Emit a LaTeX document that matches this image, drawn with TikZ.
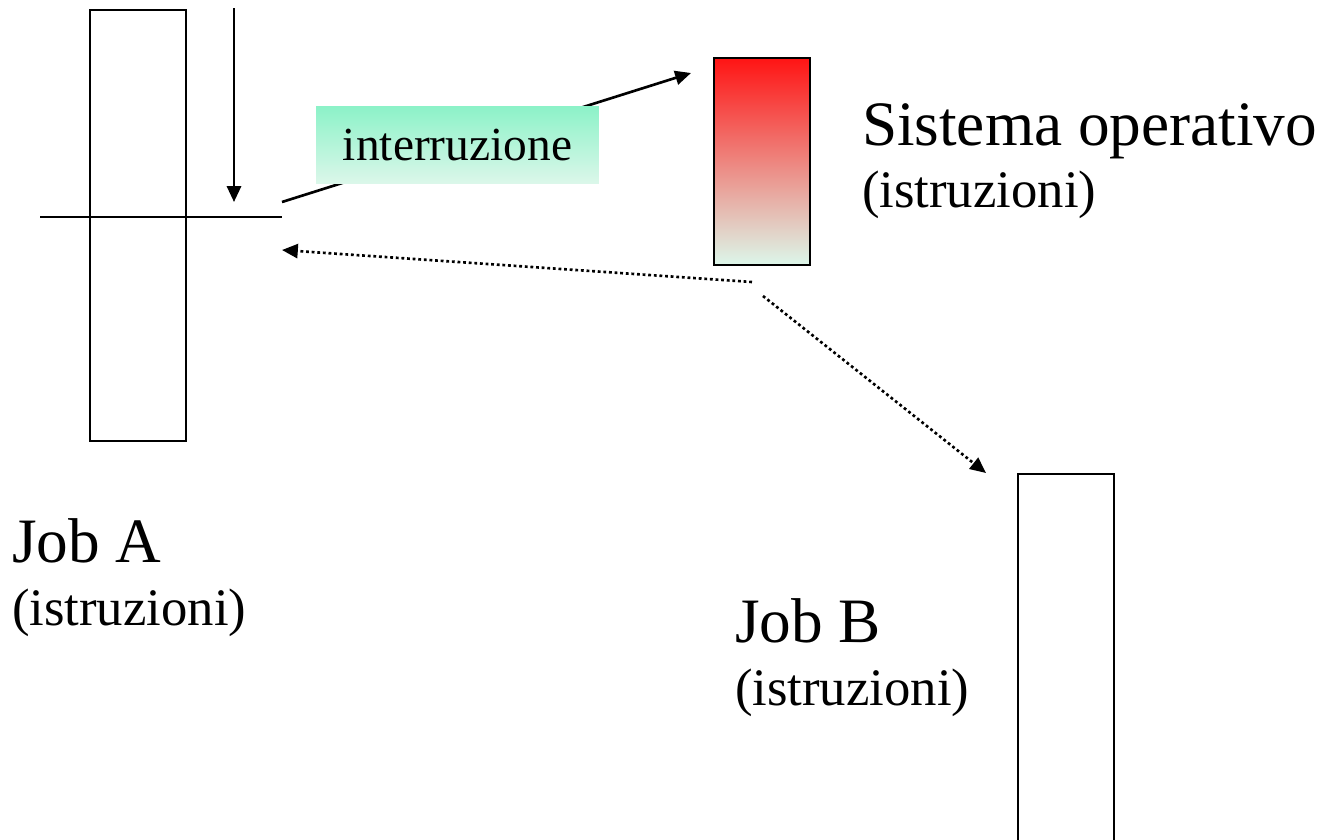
\documentclass[tikz,border=0pt]{standalone}
\usepackage{fontspec}
\setmainfont{Liberation Serif}
\usetikzlibrary{arrows.meta}
\definecolor{osred}{HTML}{FF1414}
\definecolor{osmid}{HTML}{EEA8A0}
\definecolor{mintlow}{HTML}{DCF7EA}
\definecolor{irqtop}{HTML}{8CF2C8}
\begin{document}
\begin{tikzpicture}[x=0.02cm,y=-0.02cm,every node/.style={inner sep=0pt,outer sep=0pt}]
	\tikzstyle{box}=[draw,line width=1.1pt,minimum width=1.92cm]
	\tikzstyle{big}=[anchor=base west,font=\fontsize{36}{40}\selectfont]
	\tikzstyle{small}=[anchor=base west,font=\fontsize{30}{34}\selectfont]
	\tikzstyle{arr}=[line width=1.5pt,-{Triangle[length=9pt,width=8pt]}]
	\tikzstyle{dots}=[arr,dash pattern=on 1.6pt off 1.6pt]
	\useasboundingbox (0,0) rectangle (1326,839);
	\clip (0,0) rectangle (1326,839);
	% boxes
	\node[box,minimum height=8.62cm] (jobA) at (138,225.5) {};
	\node[box,minimum height=4.14cm,top color=osred,middle color=osmid,bottom color=mintlow] (os) at (762,161.5) {};
	\node[box,minimum height=8cm] (jobB) at (1066,674) {};
	% labels
	\node[big] (jobAt) at (12,562) {Job A};
	\node[small] (jobAi) at (12,625) {(istruzioni)};
	\node[big] (jobBt) at (735,642) {Job B};
	\node[small] (jobBi) at (735,705) {(istruzioni)};
	\node[big] (ost) at (862,145) {Sistema operativo};
	\node[small] (osi) at (862,207) {(istruzioni)};
	% interrupt
	\coordinate (left) at (40,217);
	\coordinate (cut) at (282,217);
	\coordinate (pctop) at (234,8);
	\coordinate (pc) at (234,202);
	\coordinate (jump) at (282,202);
	\coordinate (toOS) at (691,73);
	\draw[line width=1.1pt] (left) -- (cut);
	\draw[arr] (pctop) -- (pc);
	\draw[arr] (jump) -- (toOS);
	\node[top color=irqtop,bottom color=mintlow,minimum width=5.66cm,minimum height=1.56cm,font=\fontsize{27}{30}\selectfont] (irq) at (457.5,145) {interruzione\hspace{0.24cm}};
	% return / switch
	\coordinate (back) at (752,282);
	\coordinate (backA) at (282,250);
	\coordinate (sw) at (763,296);
	\coordinate (swB) at (986,473);
	\draw[dots] (back) -- (backA);
	\draw[dots] (sw) -- (swB);
\end{tikzpicture}
\end{document}
